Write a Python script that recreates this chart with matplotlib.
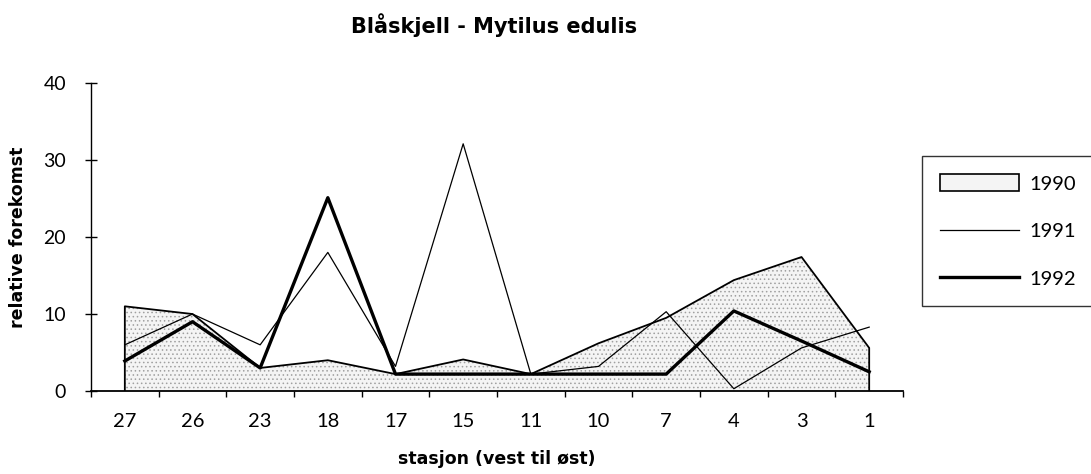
import matplotlib
matplotlib.use("Agg")
import matplotlib.pyplot as plt
import numpy as np
from matplotlib.patches import Patch
from matplotlib.lines import Line2D

# -----------------------------
# Data
# -----------------------------
stations = ["27", "26", "23", "18", "17", "15", "11", "10", "7", "4", "3", "1"]
v1990 = [11.0, 10.0, 3.0, 4.0, 2.2, 4.1, 2.2, 6.2, 9.5, 14.4, 17.4, 5.6]
v1991 = [6.0, 10.0, 6.0, 18.0, 3.2, 32.1, 2.2, 3.2, 10.3, 0.3, 5.6, 8.3]
v1992 = [3.9, 9.0, 3.0, 25.1, 2.2, 2.2, 2.2, 2.2, 2.2, 10.4, 6.5, 2.5]
yticks = [0, 10, 20, 30, 40]

plt.rcParams["font.family"] = ["Lato", "DejaVu Sans"]
plt.rcParams["hatch.linewidth"] = 0.6

fig = plt.figure(figsize=(10.91, 4.74), dpi=100)
ax = fig.add_axes([0.0834, 0.175, 0.7443, 0.65])

x = np.arange(len(stations))

# -----------------------------
# 1990 area (stippled), 1991 thin line, 1992 thick line
# -----------------------------
ax.fill_between(x, 0, v1990, facecolor="#f4f4f4", edgecolor="#a0a0a0",
                hatch="....", linewidth=0, zorder=1)
ax.plot(np.r_[x[0], x, x[-1]], np.r_[0, v1990, 0], color="black",
        linewidth=1.3, zorder=2)
ax.plot(x, v1991, color="black", linewidth=0.9, zorder=3)
ax.plot(x, v1992, color="black", linewidth=2.4, zorder=4)

ax.set_xlim(-0.5, len(stations) - 0.5)
ax.set_ylim(0, 40)

for s in ["top", "right"]:
    ax.spines[s].set_visible(False)
ax.spines["left"].set_linewidth(1.0)
ax.spines["bottom"].set_linewidth(1.3)

ax.set_yticks(yticks)
ax.tick_params(axis="y", direction="inout", length=8, width=1, pad=14,
               labelsize=14)
ax.set_xticks(x)
ax.set_xticklabels(stations)
ax.set_xticks(np.arange(-0.5, len(stations)), minor=True)
ax.tick_params(axis="x", which="major", length=0, pad=16, labelsize=14.5)
ax.tick_params(axis="x", which="minor", direction="out", length=4, width=1)

lab_font = dict(family=["DejaVu Sans"], fontsize=12.5, fontweight="bold")
ax.set_ylabel("relative forekomst", labelpad=12, **lab_font)
ax.set_xlabel("stasjon (vest til øst)", labelpad=14, **lab_font)
fig.text(0.453, 0.947, "Blåskjell - Mytilus edulis", ha="center",
         va="center", family=["DejaVu Sans"], fontsize=15, fontweight="bold")

# -----------------------------
# Legend (frame runs past the right edge, as in the reference)
# -----------------------------
handles = [
    Patch(facecolor="#f4f4f4", edgecolor="black", linewidth=1.2),
    Line2D([], [], color="black", linewidth=0.9),
    Line2D([], [], color="black", linewidth=2.4),
]
leg = fig.legend(handles, ["1990", "1991", "1992"], loc="upper left",
                 bbox_to_anchor=(0.845, 0.671, 0.2, 0.0), mode="expand",
                 fontsize=14.5, frameon=True,
                 fancybox=False, handlelength=3.9, handleheight=0.95,
                 handletextpad=0.55, labelspacing=1.45, borderpad=0.9,
                 borderaxespad=0)
leg.get_frame().set_edgecolor("black")
leg.get_frame().set_linewidth(1.0)

fig.savefig("out.png", dpi=100)
